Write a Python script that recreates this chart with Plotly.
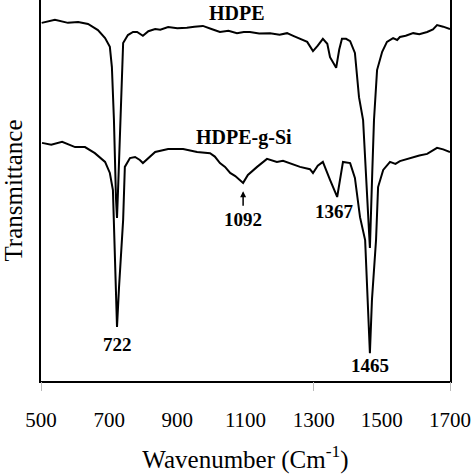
import plotly.graph_objects as go

# HDPE spectrum (wavenumber, transmittance a.u.)
hdpe_wn = [502, 541, 579, 609, 638, 667, 688, 702, 708, 714, 720, 723, 726, 732, 736, 738, 741,
           755, 770, 782, 799, 815, 835, 850, 873, 900, 928, 950, 975, 1000, 1025, 1050, 1075,
           1095, 1113, 1140, 1172, 1200, 1222, 1240, 1254, 1281, 1298, 1312, 1327, 1340, 1348,
           1366, 1375, 1383, 1395, 1407, 1421, 1433, 1445, 1455, 1465, 1472, 1477, 1486, 1501,
           1515, 1533, 1545, 1553, 1570, 1592, 1610, 1633, 1650, 1662, 1680, 1700]
hdpe_t = [94.0, 94.8, 94.0, 94.2, 93.7, 92.1, 90.0, 87.7, 82.4, 68.5, 48.0, 42.8, 50.0, 65.0,
          76.0, 82.4, 88.7, 90.8, 91.6, 91.6, 90.6, 91.8, 92.4, 92.2, 92.9, 92.6, 92.7, 93.0,
          93.2, 92.4, 91.6, 91.9, 91.3, 91.6, 91.6, 91.2, 91.3, 90.9, 91.3, 90.6, 90.0, 89.0,
          86.6, 88.0, 89.8, 88.5, 85.0, 82.2, 87.0, 89.8, 89.8, 89.2, 86.1, 74.5, 68.5, 52.0,
          34.9, 55.0, 68.5, 81.6, 86.4, 89.0, 90.0, 89.5, 90.3, 90.6, 91.3, 91.0, 91.6, 92.3,
          93.4, 93.0, 92.4]

# HDPE-g-Si spectrum
si_wn = [503, 530, 562, 600, 629, 658, 688, 702, 711, 714, 720, 723, 729, 735, 741, 746, 761,
         776, 790, 799, 815, 835, 873, 917, 958, 996, 1010, 1025, 1040, 1055, 1070, 1084, 1093,
         1107, 1120, 1134, 1163, 1192, 1210, 1231, 1260, 1289, 1298, 1312, 1327, 1348, 1369,
         1386, 1407, 1421, 1436, 1451, 1459, 1465, 1471, 1477, 1483, 1489, 1504, 1524, 1540,
         1553, 1570, 1592, 1610, 1633, 1662, 1680, 1700]
si_t = [62.5, 62.0, 62.8, 61.4, 61.4, 59.8, 57.5, 54.6, 50.1, 42.3, 24.7, 14.2, 24.7, 34.4,
        42.3, 56.2, 58.5, 58.8, 58.0, 57.2, 58.5, 60.1, 60.9, 60.9, 60.1, 59.8, 58.9, 57.2,
        56.2, 54.6, 53.8, 52.8, 52.0, 54.1, 55.0, 56.2, 58.3, 57.5, 57.8, 57.2, 56.2, 55.6,
        54.6, 56.5, 57.5, 52.8, 48.3, 57.5, 57.2, 53.3, 43.0, 37.0, 21.3, 7.3, 21.3, 30.0,
        37.0, 50.9, 55.4, 57.5, 57.0, 57.7, 58.2, 58.8, 59.2, 59.6, 61.2, 60.8, 60.1]

x_ticks = [500, 700, 900, 1100, 1300, 1500, 1700]
minor_ticks = [500, 1300, 1700]

# peak labels
peak_labels = ["722", "1092", "1367", "1465"]
peak_x = [724, 1092, 1360, 1465]
peak_y = [9.7, 42.5, 44.6, 4.2]

fig = go.Figure()
fig.add_trace(go.Scatter(x=hdpe_wn, y=hdpe_t, mode="lines",
                         line=dict(color="black", width=2), showlegend=False))
fig.add_trace(go.Scatter(x=si_wn, y=si_t, mode="lines",
                         line=dict(color="black", width=2), showlegend=False))
# invisible trace for the secondary tick axis
fig.add_trace(go.Scatter(x=[500], y=[50], mode="markers", marker=dict(opacity=0),
                         xaxis="x2", showlegend=False, hoverinfo="skip"))

serif = "Liberation Serif, Times New Roman, serif"

for txt, xx, yy in zip(peak_labels, peak_x, peak_y):
    fig.add_annotation(x=xx, y=yy, text="<b>%s</b>" % txt, showarrow=False,
                       font=dict(family=serif, size=19, color="black"))

fig.add_annotation(x=1093, y=49.8, ax=1093, ay=45.6, xref="x", yref="y", axref="x", ayref="y",
                   text="", showarrow=True, arrowhead=2, arrowsize=0.8, arrowwidth=1.5,
                   arrowcolor="black")

fig.add_annotation(x=1075, y=96.6, text="<b>HDPE</b>", showarrow=False,
                   font=dict(family=serif, size=20, color="black"))
fig.add_annotation(x=1097, y=64.0, text="<b>HDPE-g-Si</b>", showarrow=False,
                   font=dict(family=serif, size=20, color="black"))

fig.update_layout(
    width=474, height=474,
    margin=dict(l=41, r=24, t=0, b=93),
    paper_bgcolor="white", plot_bgcolor="white",
    font=dict(family=serif, size=21, color="black"),
    xaxis=dict(range=[500, 1700], tickvals=x_ticks, ticks="outside", ticklen=19,
               tickcolor="rgba(0,0,0,0)", showline=True, linecolor="black", linewidth=2,
               mirror=False, showgrid=False, zeroline=False,
               title=dict(text="Wavenumber (Cm<sup>-1</sup>)", standoff=25),
               tickfont=dict(family=serif, size=21)),
    xaxis2=dict(range=[500, 1700], overlaying="x", anchor="y", side="bottom",
                tickvals=minor_ticks, ticks="outside", ticklen=9, tickwidth=1,
                tickcolor="#bbbbbb", showticklabels=False, showline=False,
                showgrid=False, zeroline=False),
    yaxis=dict(range=[0, 100], showticklabels=False, ticks="", showline=True,
               linecolor="black", linewidth=2, mirror=True, showgrid=False,
               zeroline=False, title=dict(text="Transmittance", standoff=21)),
)

fig.write_html("out.html")
